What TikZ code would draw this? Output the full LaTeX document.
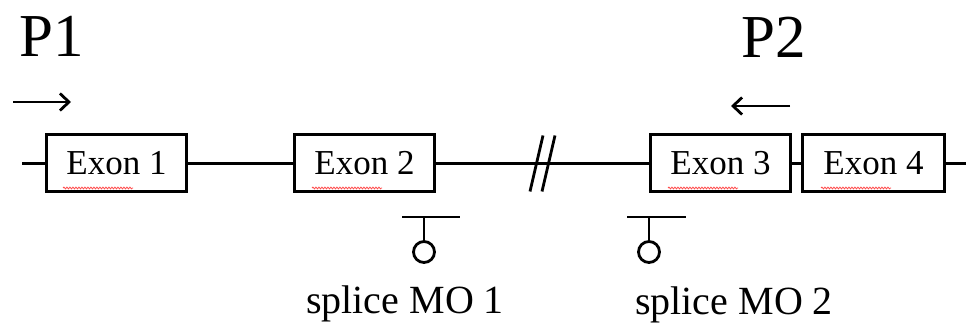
\documentclass[tikz,border=0pt]{standalone}
\usepackage{fontspec}
\setmainfont{Liberation Serif}
\usetikzlibrary{decorations.pathmorphing,calc,arrows.meta}
\begin{document}
\begin{tikzpicture}[x=1pt,y=-1pt,
  exon/.style={draw, line width=3pt, minimum width=140pt, minimum height=57pt,
    inner sep=0pt, outer sep=0pt, font=\fontsize{35}{40}\selectfont},
  wire/.style={line width=2.8pt},
  lbl/.style={anchor=base, inner sep=0pt, font=\fontsize{40}{44}\selectfont},
  prim/.style={anchor=base west, inner sep=0pt, font=\fontsize{61}{64}\selectfont},
  morph/.style={draw, circle, line width=2.8pt, minimum size=21pt, inner sep=0pt},
  arr/.style={line width=2.8pt, -{Straight Barb[length=9pt,width=17pt,line width=2.8pt]}},
  squig/.style={red!70, line width=0.8pt, decorate,
    decoration={snake, amplitude=0.9pt, segment length=3pt}}]
\useasboundingbox (0,0) rectangle (966,331);
% exons
\node[exon] (e1) at (116.5,163.5) {Exon 1};
\node[exon] (e2) at (364.5,163.5) {Exon 2};
\node[exon] (e3) at (720.5,163.5) {Exon 3};
\node[exon, minimum width=142pt] (e4) at (873.5,163.5) {Exon 4};
% spell-check squiggles
\foreach \n/\x in {e1/63, e2/312, e3/668, e4/821}
  \draw[squig] (\x,188) -- ++(70,0);
% backbone
\coordinate (s1) at (22,163.5);
\coordinate (s2) at (966,163.5);
\draw[wire] (s1) -- (e1.west);
\draw[wire] (e1.east) -- (e2.west);
\draw[wire] (e2.east) -- (e3.west);
\draw[wire] (e3.east) -- (e4.west);
\draw[wire] (e4.east) -- (s2);
% break marks
\coordinate (brk) at (543,163.5);
\draw[wire] ($(brk)+(-13,28)$) -- ($(brk)+(0,-28)$);
\draw[wire] ($(brk)+(-1,28)$) -- ($(brk)+(12,-28)$);
% primers
\node[prim] (p1) at (19,57) {P1};
\node[prim] (p2) at (741,58) {P2};
\coordinate (a1s) at (13,102);
\coordinate (a1e) at (71,102);
\draw[arr] (a1s) -- (a1e);
\coordinate (a2s) at (790,106);
\coordinate (a2e) at (731,106);
\draw[arr] (a2s) -- (a2e);
% morpholinos
\coordinate (m1) at (424,217);
\node[morph] (c1) at (424,252) {};
\draw[wire] (402,217) -- (460,217);
\draw[wire] (m1) -- (c1.north);
\coordinate (m2) at (649,217);
\node[morph] (c2) at (649,252) {};
\draw[wire] (627,217) -- (686,217);
\draw[wire] (m2) -- (c2.north);
\node[lbl] (l1) at (405,313) {splice MO 1};
\node[lbl] (l2) at (734,314) {splice MO 2};
\end{tikzpicture}
\end{document}
